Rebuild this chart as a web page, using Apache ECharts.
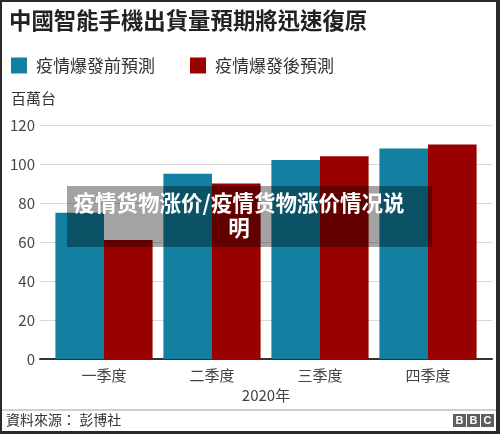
<!DOCTYPE html>
<html>
<head>
<meta charset="utf-8">
<script src="https://cdn.jsdelivr.net/npm/echarts@6/dist/echarts.min.js"></script>
<style>
  html, body { margin: 0; padding: 0; background: #fff; }
  #chart { width: 500px; height: 434px; }
</style>
</head>
<body>
<div id="chart"></div>
<script>
var quarters = ['一季度', '二季度', '三季度', '四季度'];
var beforeOutbreak = [75, 95, 102, 108];
var afterOutbreak = [61, 90, 104, 110];
var seriesNames = ['疫情爆發前預測', '疫情爆發後預測'];
var yTicks = { min: 0, max: 120, interval: 20 };

var font = '"Noto Sans CJK TC", "Noto Sans", sans-serif';
var chart = echarts.init(document.getElementById('chart'));

var option = {
    backgroundColor: '#fff',
    animation: false,
    textStyle: { fontFamily: font },
    title: {
        text: '中國智能手機出貨量預期將迅速復原',
        left: 9,
        top: 9,
        padding: 0,
        textStyle: { fontSize: 22.4, fontWeight: 'bold', color: '#222', fontFamily: font }
    },
    legend: {
        left: 11,
        top: 57,
        padding: 0,
        icon: 'rect',
        itemWidth: 16,
        itemHeight: 16,
        itemGap: 35,
        textStyle: { fontSize: 17, color: '#333', fontFamily: font, padding: [0, 0, 0, 4] },
        data: seriesNames
    },
    // grid 0 draws the axes frame, grid 1 holds the bars (narrower than the gridlines)
    grid: [
        { left: 40, right: 8, top: 125, bottom: 75 },
        { left: 50, right: 18, top: 125, bottom: 75 }
    ],
    xAxis: [
        {
            type: 'category', gridIndex: 0, data: quarters,
            axisLine: { lineStyle: { color: '#333', width: 2 } },
            axisTick: { show: false },
            axisLabel: { show: false }
        },
        {
            type: 'category', gridIndex: 1, data: quarters,
            axisLine: { show: false },
            axisTick: { show: false },
            axisLabel: { fontSize: 15, color: '#444', margin: 9, fontFamily: font },
            name: '2020年',
            nameLocation: 'middle',
            nameGap: 26,
            nameTextStyle: { fontSize: 15, color: '#444', fontFamily: font }
        }
    ],
    yAxis: [
        {
            type: 'value', gridIndex: 0,
            min: yTicks.min, max: yTicks.max, interval: yTicks.interval,
            axisLine: { show: false },
            axisTick: { show: false },
            axisLabel: { fontSize: 15, color: '#444', margin: 5, fontFamily: font },
            splitLine: { lineStyle: { color: '#d9d9d9', width: 1 } }
        },
        {
            type: 'value', gridIndex: 1,
            min: yTicks.min, max: yTicks.max, interval: yTicks.interval,
            show: false
        }
    ],
    series: [
        {
            name: seriesNames[0], type: 'bar', xAxisIndex: 1, yAxisIndex: 1,
            data: beforeOutbreak, itemStyle: { color: '#1380A1' },
            barGap: '0%', barCategoryGap: '10%'
        },
        {
            name: seriesNames[1], type: 'bar', xAxisIndex: 1, yAxisIndex: 1,
            data: afterOutbreak, itemStyle: { color: '#990000' },
            barGap: '0%', barCategoryGap: '10%'
        }
    ],
    graphic: [
        { type: 'text', left: 11, top: 91, style: { text: '百萬台', fontSize: 15, fill: '#333', fontFamily: font } },
        // footer
        { type: 'line', shape: { x1: 2, y1: 410, x2: 496, y2: 410 }, style: { stroke: '#cfcfcf', lineWidth: 2 } },
        { type: 'text', left: 6, top: 413, style: { text: '資料來源： 彭博社', fontSize: 14, fill: '#333', fontFamily: font } },
        { type: 'rect', shape: { x: 453, y: 414, width: 13, height: 13 }, style: { fill: '#5e5e5e' } },
        { type: 'rect', shape: { x: 467, y: 414, width: 13, height: 13 }, style: { fill: '#5e5e5e' } },
        { type: 'rect', shape: { x: 481, y: 414, width: 13, height: 13 }, style: { fill: '#5e5e5e' } },
        { type: 'text', x: 459.5, y: 421, style: { text: 'B', fontSize: 11, fontWeight: 'bold', fill: '#fff', align: 'center', verticalAlign: 'middle', fontFamily: 'Liberation Sans' } },
        { type: 'text', x: 473.5, y: 421, style: { text: 'B', fontSize: 11, fontWeight: 'bold', fill: '#fff', align: 'center', verticalAlign: 'middle', fontFamily: 'Liberation Sans' } },
        { type: 'text', x: 487.5, y: 421, style: { text: 'C', fontSize: 11, fontWeight: 'bold', fill: '#fff', align: 'center', verticalAlign: 'middle', fontFamily: 'Liberation Sans' } },
        // overlay caption
        { type: 'rect', z: 100, shape: { x: 67, y: 186, width: 365, height: 61 }, style: { fill: 'rgba(0,0,0,0.36)' } },
        { type: 'text', z: 101, x: 239, y: 203, style: { text: '疫情货物涨价/疫情货物涨价情况说', fontSize: 21.5, fontWeight: 'bold', fill: '#fff', align: 'center', verticalAlign: 'middle', fontFamily: '"Noto Sans CJK SC", sans-serif' } },
        { type: 'text', z: 101, x: 239, y: 228, style: { text: '明', fontSize: 21.5, fontWeight: 'bold', fill: '#fff', align: 'center', verticalAlign: 'middle', fontFamily: '"Noto Sans CJK SC", sans-serif' } },
        // dark frame
        { type: 'rect', z: 120, shape: { x: 0, y: 0, width: 2, height: 434 }, style: { fill: '#2a2a2a' } },
        { type: 'rect', z: 120, shape: { x: 0, y: 0, width: 500, height: 2 }, style: { fill: '#2a2a2a' } },
        { type: 'rect', z: 120, shape: { x: 496, y: 0, width: 4, height: 434 }, style: { fill: '#2a2a2a' } },
        { type: 'rect', z: 120, shape: { x: 0, y: 431, width: 500, height: 3 }, style: { fill: '#2a2a2a' } }
    ]
};

chart.setOption(option);
</script>
</body>
</html>
